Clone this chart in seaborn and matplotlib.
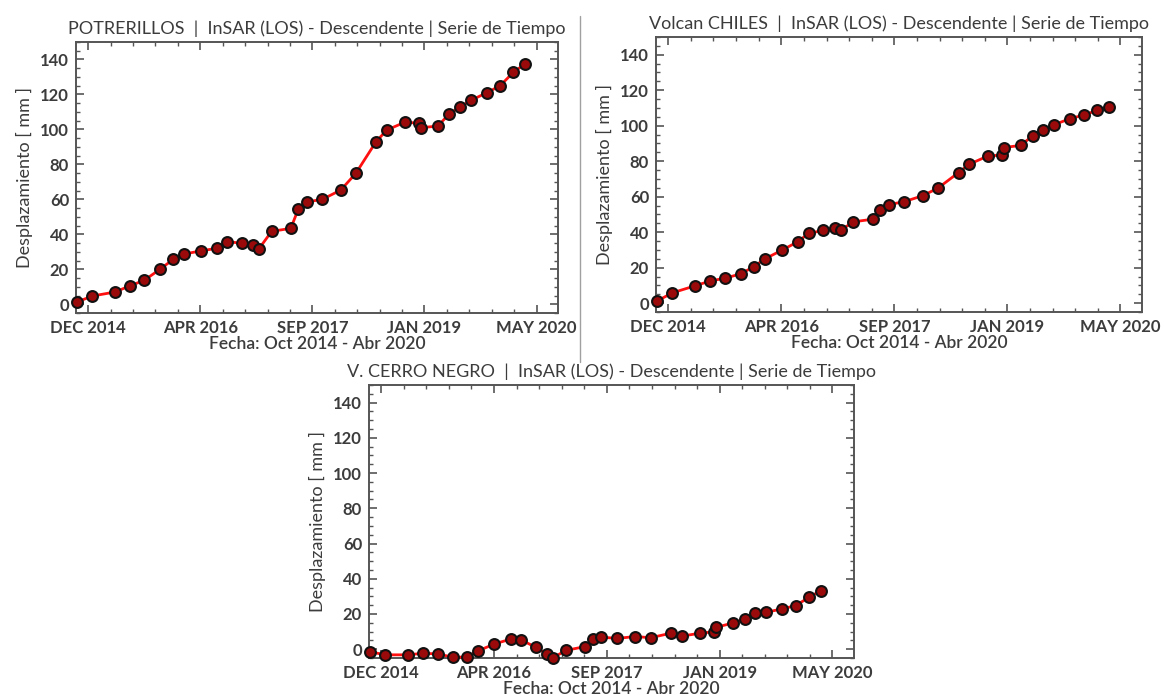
import matplotlib
matplotlib.use("Agg")
import matplotlib.pyplot as plt
from matplotlib.lines import Line2D
from matplotlib.ticker import FixedLocator, NullFormatter
import matplotlib.dates as mdates
import seaborn as sns
import pandas as pd
import numpy as np

# Acquisition dates (shared by the three time series)
acq_dates = [
    "2014-10-22", "2014-12-28", "2015-04-08", "2015-06-13", "2015-08-16",
    "2015-10-25", "2015-12-23", "2016-02-08", "2016-04-23", "2016-07-03",
    "2016-08-19", "2016-10-23", "2016-12-12", "2017-01-07", "2017-03-04",
    "2017-05-28", "2017-06-30", "2017-08-07", "2017-10-15", "2018-01-05",
    "2018-03-13", "2018-06-11", "2018-07-28", "2018-10-18", "2018-12-19",
    "2018-12-27", "2019-03-12", "2019-05-03", "2019-06-19", "2019-08-06",
    "2019-10-16", "2019-12-14", "2020-02-11", "2020-04-03",
]

# LOS displacement [mm]
potrerillos = [1.3, 4.7, 7.0, 10.5, 13.7, 20.0, 25.7, 28.7, 30.5, 32.0,
               35.8, 34.9, 34.1, 31.8, 41.7, 43.4, 54.3, 58.5, 60.0, 65.3,
               74.9, 93.0, 99.6, 104.2, 103.5, 101.0, 101.9, 109.0, 112.8, 116.6,
               121.0, 125.0, 132.7, 137.5]
chiles = [1.2, 5.8, 9.8, 12.5, 14.0, 16.5, 20.6, 24.9, 29.8, 34.6,
          39.3, 41.0, 42.3, 41.0, 45.8, 47.3, 52.5, 55.5, 57.2, 60.6,
          64.9, 73.6, 78.3, 82.9, 83.5, 87.7, 88.9, 94.3, 97.4, 100.6,
          104.0, 106.0, 108.6, 110.5]
cerro_negro = [-1.5, -3.2, -3.2, -2.3, -2.7, -4.6, -4.4, -1.1, 3.0, 5.7,
               5.3, 1.0, -2.9, -4.8, -0.7, 1.5, 5.7, 6.9, 6.1, 7.2,
               6.5, 9.1, 7.4, 9.1, 9.9, 12.4, 14.9, 17.1, 20.4, 21.0,
               22.9, 24.8, 29.5, 33.3]

titles = [
    "POTRERILLOS  |  InSAR (LOS) - Descendente | Serie de Tiempo",
    "Volcan CHILES  |  InSAR (LOS) - Descendente | Serie de Tiempo",
    "V. CERRO NEGRO  |  InSAR (LOS) - Descendente | Serie de Tiempo",
]
x_tick_labels = ["DEC 2014", "APR 2016", "SEP 2017", "JAN 2019", "MAY 2020"]
y_ticks = [0, 20, 40, 60, 80, 100, 120, 140]
x_label = "Fecha: Oct 2014 - Abr 2020"
y_label = "Desplazamiento [ mm ]"

sns.set_theme(style="white")
plt.rcParams["font.family"] = ["Lato", "DejaVu Sans"]

TXT = "#3c3c3c"
SPINE = "#555555"

fig = plt.figure(figsize=(11.64, 7.00), dpi=100)
W, H = 1164, 700

def px_axes(l, t, r, b):
    return fig.add_axes([l / W, 1 - b / H, (r - l) / W, (b - t) / H])

axes = [
    px_axes(76, 42, 558, 313),
    px_axes(656, 37, 1142, 312),
    px_axes(369, 385, 854, 658),
]

# Major date ticks evenly spaced every 498 days, five minor intervals between
tick0 = pd.Timestamp("2014-12-10")
step = 498
major = [tick0 + pd.Timedelta(days=step * k) for k in range(5)]
minor = [tick0 + pd.Timedelta(days=step / 5 * k) for k in range(-1, 22)]
xmin, xmax = pd.Timestamp("2014-10-17"), pd.Timestamp("2020-08-27")

dates = pd.to_datetime(acq_dates)
series = [potrerillos, chiles, cerro_negro]

for ax, vals, title in zip(axes, series, titles):
    df = pd.DataFrame({"fecha": dates, "desp": vals})
    sns.lineplot(data=df, x="fecha", y="desp", ax=ax, color="#ff1010",
                 linewidth=2.0, marker="o", markersize=7.8,
                 markerfacecolor="#9a0a0a", markeredgecolor="#111111",
                 markeredgewidth=1.5, clip_on=False, zorder=3)
    ax.set_xlim(xmin, xmax)
    ax.set_ylim(-5, 150)
    ax.xaxis.set_major_locator(FixedLocator(mdates.date2num(major)))
    ax.xaxis.set_minor_locator(FixedLocator(mdates.date2num(minor)))
    ax.set_xticklabels(x_tick_labels)
    ax.xaxis.set_minor_formatter(NullFormatter())
    ax.set_yticks(y_ticks)
    ax.yaxis.set_minor_locator(FixedLocator(np.arange(-5, 151, 5)))
    ax.tick_params(which="both", direction="in", top=True, right=True,
                   bottom=True, left=True, colors=SPINE)
    ax.tick_params(which="major", length=6, width=1.2, labelsize=12,
                   labelcolor=TXT, pad=5)
    ax.tick_params(which="minor", length=3, width=1.0)
    for lab in ax.get_xticklabels() + ax.get_yticklabels():
        lab.set_fontweight("bold")
    for sp in ax.spines.values():
        sp.set_visible(True)
        sp.set_color(SPINE)
        sp.set_linewidth(1.4)
    ax.set_xlabel(x_label, fontsize=12.5, color=TXT, fontweight="semibold",
                  labelpad=0)
    ax.set_ylabel(y_label, fontsize=13, color=TXT, labelpad=5)
    ax.set_title(title, fontsize=13, color=TXT, pad=6)
    ax.set_facecolor("white")

# thin divider between the two upper panels
fig.add_artist(Line2D([580 / W, 580 / W], [1 - 16 / H, 1 - 362 / H],
                      color="#a0a0a0", linewidth=1.0))

fig.savefig("out.png", dpi=100, facecolor="white")
